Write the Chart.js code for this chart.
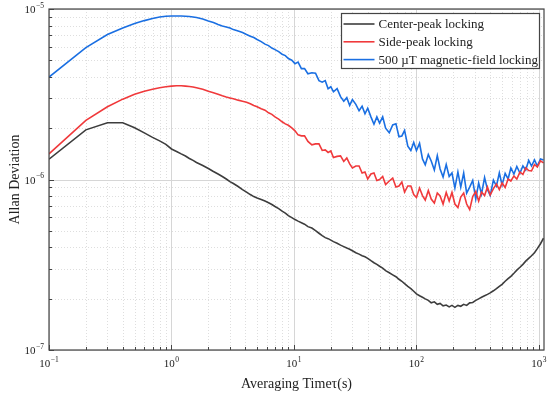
<!DOCTYPE html>
<html>
<head>
<meta charset="utf-8">
<script src="https://cdn.jsdelivr.net/npm/chart.js@4.4.0/dist/chart.umd.min.js"></script>
<style>
  html, body { margin: 0; padding: 0; background: #fff; }
</style>
</head>
<body>
<canvas id="chart" width="550" height="396"></canvas>
<script>
// averaging time tau (s)
const tau = [
  0.1, 0.2, 0.3, 0.4, 0.5, 0.6, 0.7, 0.8, 0.9, 1.0,
  1.1, 1.2, 1.3, 1.4, 1.5, 1.6, 1.8, 2.0, 2.2, 2.4,
  2.6, 2.8, 3.0, 3.2, 3.5, 3.8, 4.1, 4.4, 4.7, 5.0,
  5.4, 5.8, 6.2, 6.6, 7.0, 7.5, 8.0, 8.5, 9.0, 9.6,
  10.2, 10.8, 11.5, 12.2, 13, 14, 15, 16, 17, 18,
  19, 20, 21, 22.5, 24, 25.5, 27, 28.5, 30, 32,
  34, 36, 38, 40, 42.5, 45, 47.5, 50, 53, 56,
  60, 64, 68, 72, 76, 80, 85, 90, 95, 100,
  106, 112, 118, 125, 132, 140, 148, 156, 165, 175,
  185, 195, 206, 218, 230, 243, 257, 272, 288, 305,
  322, 340, 360, 380, 400, 425, 450, 475, 500, 530,
  560, 590, 625, 660, 700, 740, 780, 825, 870, 920,
  970, 1030, 1090
];

// Allan deviation, in units of 1e-6
const centerPeak = [
  1.315, 1.955, 2.15, 2.15, 2.01, 1.877, 1.766, 1.685, 1.607, 1.51,
  1.461, 1.413, 1.374, 1.329, 1.294, 1.259, 1.209, 1.161, 1.114, 1.077,
  1.041, 1.007, 0.971, 0.947, 0.910, 0.873, 0.844, 0.816, 0.794, 0.778,
  0.763, 0.747, 0.731, 0.713, 0.694, 0.675, 0.653, 0.635, 0.614, 0.598,
  0.582, 0.570, 0.558, 0.547, 0.529, 0.519, 0.501, 0.484, 0.469, 0.456,
  0.450, 0.441, 0.432, 0.423, 0.412, 0.404, 0.396, 0.390, 0.382, 0.372,
  0.365, 0.357, 0.352, 0.345, 0.334, 0.325, 0.318, 0.310, 0.302, 0.292,
  0.284, 0.276, 0.269, 0.260, 0.253, 0.245, 0.236, 0.229, 0.221, 0.2135,
  0.208, 0.2037, 0.1995, 0.1955, 0.189, 0.1916, 0.1853, 0.1875, 0.1815, 0.1836,
  0.179, 0.1826, 0.178, 0.1826, 0.1805, 0.1853, 0.1826, 0.189, 0.190, 0.1955,
  0.1995, 0.2037, 0.208, 0.212, 0.2164, 0.2225, 0.229, 0.236, 0.2427, 0.253,
  0.262, 0.2706, 0.282, 0.294, 0.3056, 0.318, 0.332, 0.345, 0.357, 0.372,
  0.393, 0.420, 0.453
];

const sidePeak = [
  1.413, 2.223, 2.67, 2.96, 3.16, 3.29, 3.38, 3.45, 3.50, 3.53,
  3.55, 3.55, 3.53, 3.51, 3.49, 3.45, 3.38, 3.29, 3.23, 3.16,
  3.10, 3.05, 3.01, 2.975, 2.92, 2.88, 2.84, 2.78, 2.72, 2.67,
  2.60, 2.55, 2.46, 2.41, 2.33, 2.26, 2.18, 2.12, 2.08, 2.01,
  1.929, 1.827, 1.803, 1.803, 1.673, 1.596, 1.618, 1.618, 1.481, 1.491,
  1.441, 1.471, 1.347, 1.366, 1.375, 1.276, 1.338, 1.234, 1.169, 1.20,
  1.20, 1.092, 1.107, 1.007, 1.077, 1.092, 0.987, 1.0, 1.041, 0.935,
  0.980, 1.020, 0.903, 0.916, 0.967, 0.844, 0.916, 0.916, 0.816, 0.784,
  0.891, 0.805, 0.758, 0.862, 0.768, 0.727, 0.833, 0.800, 0.718, 0.839,
  0.747, 0.839, 0.718, 0.684, 0.789, 0.833, 0.718, 0.666, 0.794, 0.850,
  0.747, 0.844, 0.805, 0.903, 0.811, 0.885, 0.941, 0.873, 0.954, 0.897,
  1.007, 0.980, 1.049, 1.007, 1.107, 1.070, 1.169, 1.129, 1.122, 1.225,
  1.184, 1.285, 1.251
];

const fieldLock = [
  3.99, 5.94, 7.08, 7.73, 8.22, 8.55, 8.79, 8.97, 9.06, 9.10,
  9.10, 9.10, 9.07, 9.03, 8.97, 8.91, 8.73, 8.50, 8.33, 8.11,
  7.94, 7.84, 7.73, 7.57, 7.42, 7.28, 7.08, 6.93, 6.80, 6.62,
  6.44, 6.22, 6.10, 5.90, 5.78, 5.62, 5.43, 5.33, 5.12, 5.01,
  4.78, 4.88, 4.47, 4.47, 4.17, 4.23, 4.20, 3.80, 3.72, 3.80,
  3.41, 3.50, 3.27, 3.41, 3.06, 2.88, 3.02, 2.72, 2.94, 2.76,
  2.53, 2.69, 2.43, 2.62, 2.33, 2.11, 2.33, 2.14, 2.33, 2.00,
  1.88, 2.09, 2.12, 1.78, 1.80, 1.94, 1.57, 1.48, 1.65, 1.48,
  1.63, 1.32, 1.22, 1.40, 1.285, 1.137, 1.38, 1.153, 1.034, 1.225,
  1.041, 1.092, 0.891, 1.107, 0.903, 1.092, 0.833, 0.903, 0.987, 0.768,
  0.954, 0.822, 1.027, 0.873, 0.805, 0.993, 0.916, 1.092, 0.928, 1.085,
  1.007, 1.169, 1.077, 1.193, 1.092, 1.20, 1.137, 1.294, 1.20, 1.302,
  1.20, 1.32, 1.302
];

const seriesLabels = ["Center-peak locking", "Side-peak locking", "500 \u00b5T magnetic-field locking"];
const seriesColors = ["#3d3d3d", "#f0393b", "#1a6fe2"];
const xDecades = [-1, 0, 1, 2, 3];
const yDecades = [-7, -6, -5];
const xTitle = "Averaging Time\u03c4(s)";
const yTitle = "Allan Deviation";
const yUnit = 1e-6;

const SERIF = '"Liberation Serif", "Times New Roman", serif';
const INK = "#444";

function toPoints(values) {
  return tau.map((t, i) => ({ x: t, y: values[i] * yUnit }));
}

// every 1..9 x 10^n value inside [min, max]
function logTicks(scale) {
  const out = [];
  const lo = Math.floor(Math.log10(scale.min));
  const hi = Math.ceil(Math.log10(scale.max));
  for (let n = lo; n <= hi; n++) {
    for (let m = 1; m <= 9; m++) {
      const v = m * Math.pow(10, n);
      if (v >= scale.min * 0.999 && v <= scale.max * 1.001) out.push({ v, major: m === 1 });
    }
  }
  return out;
}

function drawPow(ctx, exp, x, y, align) {
  const base = "10";
  const sup = exp < 0 ? "\u2212" + (-exp) : String(exp);
  ctx.font = "11px " + SERIF;
  const wb = ctx.measureText(base).width;
  ctx.font = "7.5px " + SERIF;
  const ws = ctx.measureText(sup).width;
  const total = wb + ws + 0.5;
  const left = align === "right" ? x - total : x - total / 2;
  ctx.textAlign = "left";
  ctx.textBaseline = "alphabetic";
  ctx.font = "11px " + SERIF;
  ctx.fillText(base, left, y);
  ctx.font = "7.5px " + SERIF;
  ctx.fillText(sup, left + wb + 0.5, y - 5.5);
}

const framePlugin = {
  id: "frame",
  beforeDatasetsDraw(chart) {
    const { ctx, chartArea: a, scales: { x, y } } = chart;
    ctx.save();
    ctx.lineWidth = 1;
    logTicks(x).forEach((t) => {
      const px = Math.round(x.getPixelForValue(t.v)) + 0.5;
      ctx.strokeStyle = t.major ? "#d6d6d6" : "#dedede";
      ctx.setLineDash(t.major ? [] : [1, 2]);
      ctx.beginPath();
      ctx.moveTo(px, a.top);
      ctx.lineTo(px, a.bottom);
      ctx.stroke();
    });
    logTicks(y).forEach((t) => {
      const py = Math.round(y.getPixelForValue(t.v)) + 0.5;
      ctx.strokeStyle = t.major ? "#d6d6d6" : "#dedede";
      ctx.setLineDash(t.major ? [] : [1, 2]);
      ctx.beginPath();
      ctx.moveTo(a.left, py);
      ctx.lineTo(a.right, py);
      ctx.stroke();
    });
    ctx.restore();
  },
  afterDatasetsDraw(chart) {
    const { ctx, chartArea: a, scales: { x, y } } = chart;
    ctx.save();
    ctx.setLineDash([]);
    ctx.strokeStyle = INK;
    ctx.lineWidth = 1.2;
    ctx.strokeRect(a.left, a.top, a.right - a.left, a.bottom - a.top);

    // inward tick marks
    ctx.lineWidth = 1;
    logTicks(x).forEach((t) => {
      const px = Math.round(x.getPixelForValue(t.v)) + 0.5;
      const len = t.major ? 5 : 3;
      ctx.beginPath();
      ctx.moveTo(px, a.bottom);
      ctx.lineTo(px, a.bottom - len);
      ctx.stroke();
    });
    logTicks(y).forEach((t) => {
      const py = Math.round(y.getPixelForValue(t.v)) + 0.5;
      const len = t.major ? 5 : 3;
      ctx.beginPath();
      ctx.moveTo(a.left, py);
      ctx.lineTo(a.left + len, py);
      ctx.stroke();
    });

    // tick labels
    ctx.fillStyle = "#222";
    xDecades.forEach((n) => {
      drawPow(ctx, n, x.getPixelForValue(Math.pow(10, n)), a.bottom + 17, "center");
    });
    yDecades.forEach((n) => {
      drawPow(ctx, n, a.left - 5, y.getPixelForValue(Math.pow(10, n)) + 4, "right");
    });

    // axis titles
    ctx.font = "14px " + SERIF;
    ctx.textAlign = "center";
    ctx.textBaseline = "alphabetic";
    ctx.fillText(xTitle, (a.left + a.right) / 2, 388);
    ctx.save();
    ctx.translate(19, (a.top + a.bottom) / 2);
    ctx.rotate(-Math.PI / 2);
    ctx.fillText(yTitle, 0, 0);
    ctx.restore();

    // legend box
    const bx = 341.5, by = 13.5, bw = 198, bh = 55;
    ctx.fillStyle = "#fff";
    ctx.fillRect(bx, by, bw, bh);
    ctx.strokeStyle = INK;
    ctx.lineWidth = 1.2;
    ctx.strokeRect(bx, by, bw, bh);
    ctx.font = "13px " + SERIF;
    ctx.textAlign = "left";
    ctx.textBaseline = "middle";
    chart.data.datasets.forEach((ds, i) => {
      const ry = by + 10.5 + i * 17.8;
      ctx.strokeStyle = ds.borderColor;
      ctx.lineWidth = 1.6;
      ctx.beginPath();
      ctx.moveTo(bx + 2, ry);
      ctx.lineTo(bx + 33, ry);
      ctx.stroke();
      ctx.fillStyle = "#222";
      ctx.fillText(ds.label, bx + 37, ry + 0.5);
    });
    ctx.restore();
  }
};

new Chart(document.getElementById("chart"), {
  type: "line",
  data: {
    datasets: [centerPeak, sidePeak, fieldLock].map((vals, i) => ({
      label: seriesLabels[i],
      data: toPoints(vals),
      borderColor: seriesColors[i],
      backgroundColor: seriesColors[i],
      borderWidth: 1.6,
      pointRadius: 0,
      tension: 0,
      fill: false
    }))
  },
  options: {
    responsive: false,
    animation: false,
    devicePixelRatio: 1,
    layout: { padding: { left: 49, right: 6, top: 9, bottom: 46 } },
    plugins: {
      legend: { display: false },
      tooltip: { enabled: false }
    },
    scales: {
      x: { type: "logarithmic", min: 0.1, max: 1100, display: false },
      y: { type: "logarithmic", min: 1e-7, max: 1e-5, display: false }
    }
  },
  plugins: [framePlugin]
});
</script>
</body>
</html>
